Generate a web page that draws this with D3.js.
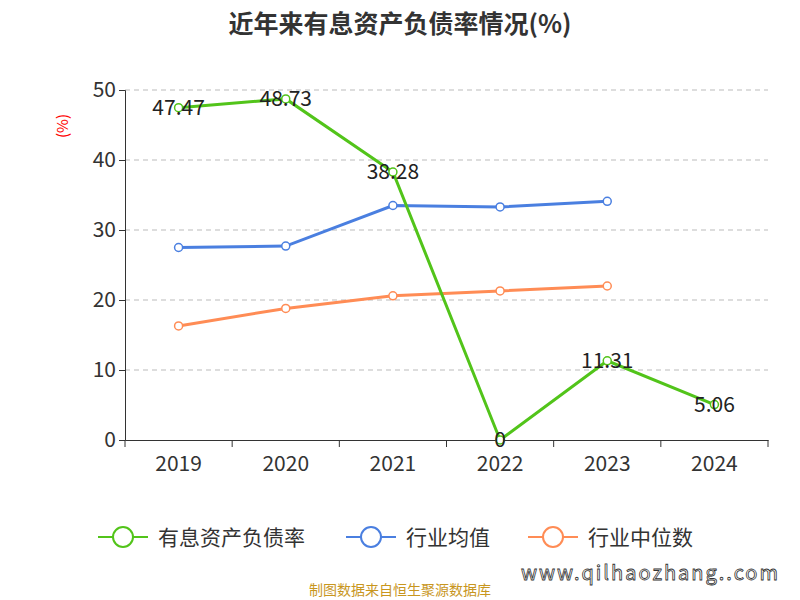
<!DOCTYPE html>
<html><head><meta charset="utf-8">
<script src="https://cdn.jsdelivr.net/npm/d3@7"></script>
<style>body{margin:0;background:#fff}text{font-family:"Noto Sans CJK SC","Noto Sans",sans-serif}</style>
</head><body><svg id="c" width="800" height="600"></svg>
<script>
const years = ["2019", "2020", "2021", "2022", "2023", "2024"];
const debtRatio = [47.47, 48.73, 38.28, 0, 11.31, 5.06];
const industryAvg = [27.5, 27.7, 33.5, 33.3, 34.1];
const industryMedian = [16.3, 18.8, 20.6, 21.3, 22.0];
const yTicks = [0, 10, 20, 30, 40, 50];

const svg = d3.select("#c");
const x = d3.scaleBand().domain(years).range([125, 768]);
const y = d3.scaleLinear().domain([0, 50]).range([440, 90]);
const cx = d => x(d) + x.bandwidth() / 2;

svg.append("text").attr("x", 400).attr("y", 33).attr("text-anchor", "middle")
  .attr("font-size", 25).attr("font-weight", "bold").attr("fill", "#333").text("近年来有息资产负债率情况(%)");

// grid
svg.selectAll(".grid").data(yTicks.filter(d => d > 0)).join("line")
  .attr("x1", 125).attr("x2", 768).attr("y1", y).attr("y2", y)
  .attr("stroke", "#bbb").attr("stroke-dasharray", "5,4");

// y axis
const ya = svg.append("g").attr("transform", "translate(125,0)")
  .call(d3.axisLeft(y).tickValues(yTicks).tickSize(6));
ya.select(".domain").attr("stroke", "#333");
ya.selectAll("text").attr("font-size", 21).attr("fill", "#333");
ya.selectAll(".tick line").attr("stroke", "#333");
svg.append("text").attr("transform", "translate(68,126) rotate(-90)").attr("text-anchor", "middle")
  .attr("font-size", 15).attr("fill", "red").text("(%)");

// x axis
const xa = svg.append("g").attr("transform", "translate(0,440)")
  .call(d3.axisBottom(x).tickSize(0).tickPadding(16));
xa.select(".domain").attr("stroke", "#333");
xa.selectAll("text").attr("font-size", 21).attr("fill", "#333");
svg.selectAll(".xt").data(d3.range(years.length + 1)).join("line")
  .attr("x1", i => 125 + i * x.bandwidth()).attr("x2", i => 125 + i * x.bandwidth())
  .attr("y1", 440).attr("y2", 447).attr("stroke", "#333");

const series = [
  { vals: debtRatio, color: "#52c41a", name: "有息资产负债率" },
  { vals: industryAvg, color: "#4a7fe0", name: "行业均值" },
  { vals: industryMedian, color: "#ff8c55", name: "行业中位数" }
];
const line = d3.line().x((d, i) => cx(years[i])).y(d => y(d));
series.slice().reverse().forEach(s => {
  svg.append("path").attr("d", line(s.vals)).attr("fill", "none")
    .attr("stroke", s.color).attr("stroke-width", 3);
  svg.selectAll(null).data(s.vals).join("circle")
    .attr("cx", (d, i) => cx(years[i])).attr("cy", d => y(d)).attr("r", 4)
    .attr("fill", "#fff").attr("stroke", s.color).attr("stroke-width", 1.5);
});
svg.selectAll(".lbl").data(debtRatio).join("text")
  .attr("x", (d, i) => cx(years[i])).attr("y", d => y(d) + 7).attr("text-anchor", "middle")
  .attr("font-size", 21).attr("fill", "#222").text(d => d);

// legend
const lx = [98, 346, 528];
series.forEach((s, i) => {
  const g = svg.append("g").attr("transform", `translate(${lx[i]},537)`);
  g.append("line").attr("x1", 0).attr("x2", 50).attr("stroke", s.color).attr("stroke-width", 2);
  g.append("circle").attr("cx", 25).attr("r", 10).attr("fill", "#fff").attr("stroke", s.color).attr("stroke-width", 2);
  g.append("text").attr("x", 60).attr("y", 8).attr("font-size", 21).attr("fill", "#333").text(s.name);
});

svg.append("text").attr("x", 400).attr("y", 595).attr("text-anchor", "middle")
  .attr("font-size", 14).attr("fill", "#c8961e").text("制图数据来自恒生聚源数据库");
svg.append("text").attr("x", 780).attr("y", 580).attr("text-anchor", "end")
  .attr("font-size", 20).attr("fill", "#fff").attr("stroke", "#333").attr("stroke-width", 0.8)
  .attr("letter-spacing", 2).text("www.qilhaozhang..com");
</script></body></html>
